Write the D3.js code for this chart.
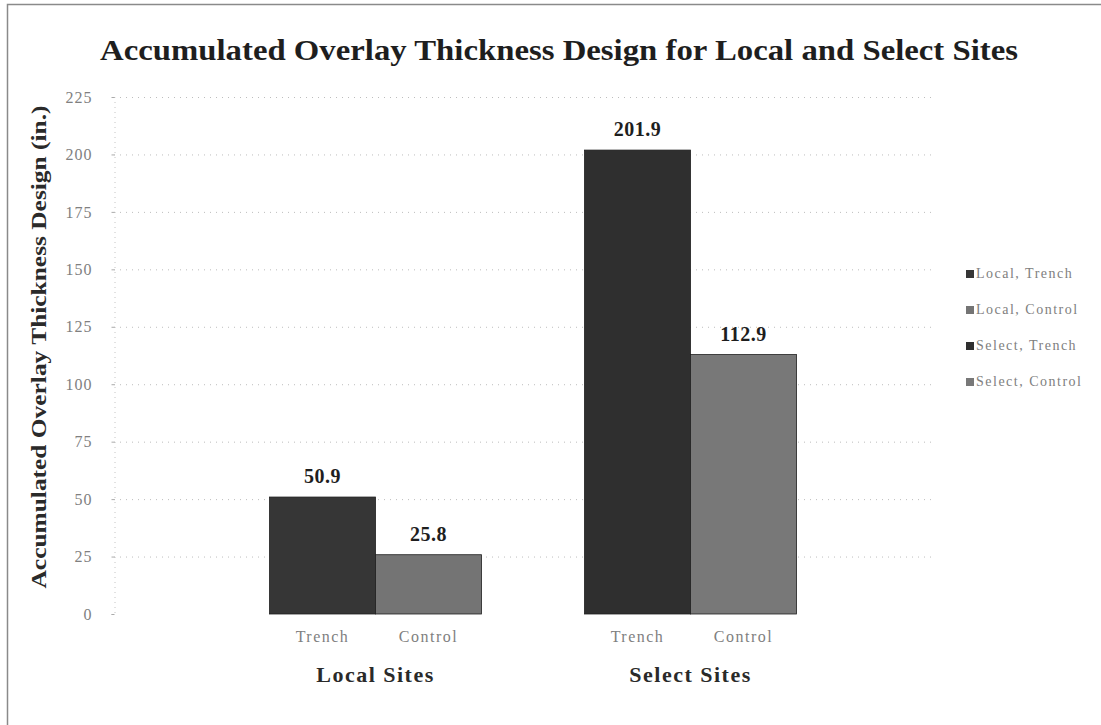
<!DOCTYPE html>
<html>
<head>
<meta charset="utf-8">
<script src="https://cdn.jsdelivr.net/npm/d3@7"></script>
<style>
  html, body { margin: 0; padding: 0; background: #fff; }
  svg { display: block; }
  text { font-family: "Liberation Serif", "Times New Roman", serif; }
</style>
</head>
<body>
<svg id="chart" width="1101" height="725"></svg>
<script>
// Site groups and the two treatments within each group
const groups = ["Local Sites", "Select Sites"];
const treatments = ["Trench", "Control"];
const seriesNames = ["Local, Trench", "Local, Control", "Select, Trench", "Select, Control"];
const localValues = [50.9, 25.8];
const selectValues = [201.9, 112.9];
const yTicks = [0, 25, 50, 75, 100, 125, 150, 175, 200, 225];
const seriesColors = ["#363636", "#747474", "#2f2f2f", "#787878"];

const svg = d3.select("#chart");

// Outer frame (left and top edges)
svg.append("path")
  .attr("d", "M7.5,725 L7.5,4.5 L1101,4.5")
  .attr("fill", "none")
  .attr("stroke", "#8a8a8a")
  .attr("stroke-width", 1.5);

const plotLeft = 114, plotRight = 935, plotTop = 97, plotBottom = 614;

const y = d3.scaleLinear().domain([0, 225]).range([plotBottom, plotTop]);
const xGroup = d3.scaleBand().domain(groups).range([218, 848]).paddingInner(0).paddingOuter(0);
const xInner = d3.scaleBand().domain(treatments).range([0, xGroup.bandwidth()]).paddingInner(0).paddingOuter(0.486);

// Dotted horizontal gridlines
svg.append("g")
  .selectAll("line")
  .data(yTicks.filter(d => d > 0))
  .join("line")
  .attr("x1", plotLeft).attr("x2", plotRight)
  .attr("y1", d => y(d) + 0.5).attr("y2", d => y(d) + 0.5)
  .attr("stroke", "#bdbdbd")
  .attr("stroke-width", 1)
  .attr("stroke-dasharray", "1,5");

// Y axis
const yAxis = d3.axisLeft(y).tickValues(yTicks).tickSize(3).tickPadding(19);
const gy = svg.append("g").attr("transform", `translate(${plotLeft + 0.5},0)`).call(yAxis);
gy.select(".domain").attr("stroke", "#c4c4c4").attr("stroke-dasharray", "1,4");
gy.selectAll(".tick line").attr("stroke", "#aaa");
gy.selectAll(".tick text")
  .attr("fill", "#808080")
  .style("font-size", "16px")
  .style("letter-spacing", "1px")
  .style("font-family", "'Liberation Serif', serif");

// Bars
const data = [];
groups.forEach((g, gi) => {
  const vals = gi === 0 ? localValues : selectValues;
  treatments.forEach((t, ti) => {
    data.push({ group: g, treatment: t, value: vals[ti], color: seriesColors[gi * 2 + ti] });
  });
});

svg.append("g")
  .selectAll("rect")
  .data(data)
  .join("rect")
  .attr("x", d => xGroup(d.group) + xInner(d.treatment))
  .attr("y", d => y(d.value))
  .attr("width", xInner.bandwidth())
  .attr("height", d => y(0) - y(d.value))
  .attr("fill", d => d.color)
  .attr("stroke", "#1e1e1e")
  .attr("stroke-width", 0.8);

// Value labels above bars
svg.append("g")
  .selectAll("text")
  .data(data)
  .join("text")
  .attr("x", d => xGroup(d.group) + xInner(d.treatment) + xInner.bandwidth() / 2)
  .attr("y", d => y(d.value) - 14)
  .attr("text-anchor", "middle")
  .attr("font-weight", "bold")
  .attr("font-size", "20px")
  .attr("letter-spacing", "0.5px")
  .attr("fill", "#1e1e1e")
  .text(d => d.value.toFixed(1));

// Treatment labels under bars
svg.append("g")
  .selectAll("text")
  .data(data)
  .join("text")
  .attr("x", d => xGroup(d.group) + xInner(d.treatment) + xInner.bandwidth() / 2)
  .attr("y", 642)
  .attr("text-anchor", "middle")
  .attr("font-size", "16px")
  .attr("letter-spacing", "1.5px")
  .attr("fill", "#808080")
  .text(d => d.treatment);

// Group labels
svg.append("g")
  .selectAll("text")
  .data(groups)
  .join("text")
  .attr("x", d => xGroup(d) + xGroup.bandwidth() / 2)
  .attr("y", 682)
  .attr("text-anchor", "middle")
  .attr("font-weight", "bold")
  .attr("font-size", "22px")
  .attr("letter-spacing", "1.5px")
  .attr("fill", "#2a2a2a")
  .text(d => d);

// Title
svg.append("text")
  .attr("x", 559)
  .attr("y", 60)
  .attr("text-anchor", "middle")
  .attr("font-weight", "bold")
  .attr("font-size", "30px")
  .attr("textLength", 918)
  .attr("lengthAdjust", "spacingAndGlyphs")
  .attr("fill", "#1e1e1e")
  .text("Accumulated Overlay Thickness Design for Local and Select Sites");

// Y axis title
svg.append("text")
  .attr("transform", `translate(46,347) rotate(-90)`)
  .attr("text-anchor", "middle")
  .attr("font-weight", "bold")
  .attr("font-size", "20px")
  .attr("textLength", 483)
  .attr("lengthAdjust", "spacingAndGlyphs")
  .attr("fill", "#2a2a2a")
  .text("Accumulated Overlay Thickness Design (in.)");

// Legend
const legend = svg.append("g").attr("transform", "translate(966,0)");
const rows = legend.selectAll("g")
  .data(seriesNames)
  .join("g")
  .attr("transform", (d, i) => `translate(0,${278 + i * 36})`);
rows.append("rect")
  .attr("x", 0).attr("y", -8)
  .attr("width", 8).attr("height", 8)
  .attr("fill", (d, i) => seriesColors[i]);
rows.append("text")
  .attr("x", 10).attr("y", 0)
  .attr("font-size", "14px")
  .attr("letter-spacing", "1.5px")
  .attr("fill", "#808080")
  .text(d => d);
</script>
</body>
</html>
